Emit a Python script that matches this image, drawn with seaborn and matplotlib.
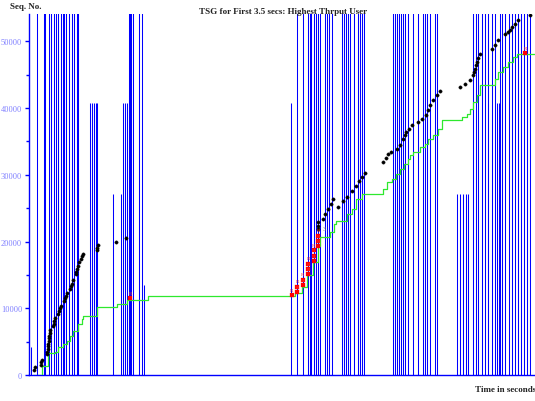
import matplotlib
matplotlib.use("Agg")
import matplotlib.pyplot as plt
import seaborn as sns
import pandas as pd

# --- advertised-window lines: time (s) and top of each line (seq no.) ---
win_time = [0.014, 0.055, 0.104, 0.111, 0.138, 0.152, 0.173, 0.187, 0.201, 0.221,
            0.235, 0.242, 0.256, 0.277, 0.297, 0.311, 0.332, 0.339,
            0.422, 0.436, 0.450, 0.463, 0.470,
            0.581, 0.636, 0.650, 0.664, 0.678,
            0.692, 0.699, 0.706, 0.719, 0.761, 0.782, 0.795,
            1.812, 1.854, 1.895, 1.930, 1.944, 1.951, 1.971, 1.985, 1.999, 2.013,
            2.047, 2.061, 2.075, 2.096, 2.165, 2.179, 2.193, 2.207, 2.220, 2.248,
            2.276, 2.289, 2.303, 2.317,
            2.518, 2.532, 2.545, 2.559, 2.573, 2.587, 2.601, 2.622, 2.656, 2.691,
            2.725, 2.739, 2.753, 2.774, 2.808, 2.822,
            2.960, 2.981, 3.002, 3.023, 3.037,
            3.071, 3.092, 3.106, 3.134, 3.154, 3.175, 3.203, 3.223, 3.237, 3.251,
            3.258, 3.272, 3.293, 3.320, 3.341, 3.362, 3.383, 3.404, 3.424, 3.445, 3.466]
win_top = [4200, 56000, 56000, 56000, 56000, 56000, 56000, 56000, 56000, 56000,
           56000, 56000, 56000, 56000, 56000, 56000, 56000, 56000,
           40700, 40700, 40700, 40700, 40700,
           27100, 27100, 40700, 40700, 40700,
           56000, 56000, 56000, 56000, 56000, 56000, 13500,
           40700, 56000, 56000, 56000, 56000, 56000, 56000, 56000, 56000, 56000,
           56000, 56000, 56000, 56000, 56000, 56000, 56000, 56000, 56000, 56000,
           56000, 56000, 56000, 56000,
           56000, 56000, 56000, 56000, 56000, 56000, 56000, 56000, 56000, 56000,
           56000, 56000, 56000, 56000, 56000, 56000,
           27100, 27100, 27100, 27100, 27100,
           56000, 56000, 56000, 56000, 56000, 56000, 56000, 56000, 40700, 40700,
           56000, 56000, 56000, 56000, 56000, 56000, 56000, 56000, 56000, 56000, 56000]

# --- cumulative ACK (step line) ---
ack_time = [0.030, 0.088, 0.134, 0.180, 0.203, 0.237, 0.261, 0.284, 0.306, 0.341,
            0.365, 0.376, 0.468, 0.607, 0.676, 0.825, 1.840, 1.888, 1.923, 1.964,
            1.999, 2.013, 2.082, 2.110, 2.124, 2.200, 2.234, 2.262, 2.303, 2.449,
            2.476, 2.511, 2.539, 2.566, 2.594, 2.622, 2.635, 2.658, 2.705, 2.739,
            2.762, 2.797, 2.831, 2.855, 2.993, 3.028, 3.050, 3.074, 3.097, 3.120,
            3.223, 3.246, 3.281, 3.315, 3.350, 3.373, 3.500]
ack_seq = [0, 1400, 3250, 3500, 4150, 4650, 5150, 5900, 6650, 7650,
           8400, 8900, 10150, 10650, 11300, 11800, 12300, 13150, 15000, 17000,
           19400, 20650, 21400, 22650, 23100, 24150, 24900, 26400, 27150, 27900,
           28950, 29400, 30150, 30900, 31650, 32400, 32900, 33400, 34150, 34650,
           35400, 35900, 36900, 38250, 38650, 39150, 39900, 40900, 41900, 43400,
           44400, 45400, 46150, 46900, 47650, 48150, 48150]

# --- data segments sent ---
seg_time = [0.035, 0.042, 0.083, 0.085, 0.088,
            0.124, 0.126, 0.128, 0.131, 0.133, 0.135, 0.138, 0.140, 0.143, 0.146,
            0.168, 0.172, 0.176, 0.181, 0.204, 0.209, 0.214, 0.220,
            0.243, 0.249, 0.255, 0.262, 0.284, 0.290, 0.296, 0.303,
            0.322, 0.327, 0.332, 0.338, 0.344, 0.362, 0.368, 0.374,
            0.468, 0.473, 0.480, 0.605, 0.671,
            1.999, 1.999, 1.999, 2.031, 2.047, 2.068, 2.089, 2.103,
            2.137, 2.172, 2.200, 2.234, 2.262, 2.283, 2.303, 2.324,
            2.449, 2.470, 2.484, 2.507, 2.542, 2.566, 2.587, 2.599, 2.611, 2.628,
            2.646, 2.692, 2.715, 2.749, 2.762, 2.774, 2.797, 2.820, 2.843,
            2.981, 3.016, 3.050, 3.074, 3.080, 3.085, 3.091, 3.097, 3.108, 3.120,
            3.200, 3.223, 3.246, 3.293, 3.310, 3.327, 3.341, 3.363, 3.385, 3.466]
seg_seq = [800, 1200, 1500, 1900, 2300,
           3100, 3500, 3900, 4300, 4700, 5100, 5500, 5900, 6300, 6700,
           7300, 7700, 8100, 8500, 9200, 9600, 10000, 10400,
           11100, 11500, 11900, 12300, 12900, 13300, 13700, 14200,
           15100, 15500, 15900, 16400, 16900, 17400, 17800, 18200,
           18700, 19100, 19500, 19950, 20550,
           21900, 22400, 22900, 23400, 24150, 24900, 25650, 26400,
           25200, 26100, 26700, 27600, 28300, 29000, 29700, 30300,
           31900, 32500, 33150, 33400, 33900, 34400, 35400, 35900, 36400, 36900,
           37400, 37900, 38400, 38900, 39700, 40400, 41150, 41900, 42500,
           43150, 43650, 44150, 44900, 45400, 45900, 46400, 46900, 47500, 48150,
           48900, 49400, 50150, 51150, 51400, 51650, 52150, 52650, 53150, 54000]

# --- retransmitted segments ---
rtx_time = [0.699, 1.819, 1.854, 1.854, 1.894, 1.894, 1.933, 1.933, 1.933,
            1.970, 1.970, 1.970, 2.002, 2.002, 2.002, 3.431]
rtx_seq = [11550, 12000, 12450, 13250, 13500, 14300, 15100, 15900, 16700,
           17100, 17900, 18700, 19300, 20100, 20900, 48250]

# triple duplicate ACK marker
dup_time = [2.031]
dup_seq = [21900]

yticks = [0, 10000, 20000, 30000, 40000, 50000]
yminor = [5000, 15000, 25000, 35000, 45000]

sns.set_theme(style="white")
plt.rcParams["font.family"] = ["Liberation Serif", "DejaVu Serif"]

fig = plt.figure(figsize=(5.35, 4.02), dpi=100)
ax = fig.add_axes([29 / 535, 26 / 402, 506 / 535, 361 / 402])

blue = "#0000ff"
ax.vlines(win_time, 0, win_top, colors=blue, linewidth=0.75, zorder=1)

ack_df = pd.DataFrame({"t": ack_time, "seq": ack_seq})
sns.lineplot(data=ack_df, x="t", y="seq", ax=ax, color="#2ee82e",
             linewidth=0.9, drawstyle="steps-post", estimator=None,
             sort=False, zorder=3)

seg_df = pd.DataFrame({"t": seg_time, "seq": seg_seq})
sns.scatterplot(data=seg_df, x="t", y="seq", ax=ax, color="black", s=6,
                edgecolor="black", linewidth=0.2, zorder=4)

rtx_df = pd.DataFrame({"t": rtx_time, "seq": rtx_seq})
sns.scatterplot(data=rtx_df, x="t", y="seq", ax=ax, color="#ff0000", s=6,
                marker="s", edgecolor="#ff0000", linewidth=0.2, zorder=5)
for t, s in zip(rtx_time, rtx_seq):
    ax.text(t, s + 500, "R", color="#ff3030", fontsize=3.6, ha="center",
            va="bottom", zorder=5)
for t, s in zip(dup_time, dup_seq):
    ax.text(t, s, "3", color="#707070", fontsize=4.5, ha="left", va="center",
            zorder=5)

ax.set_xlim(0, 3.5)
ax.set_ylim(0, 54100)
ax.set_xlabel("")
ax.set_ylabel("")
ax.set_xticks([])
ax.set_yticks(yticks)
ax.set_yticks(yminor, minor=True)
ax.set_yticklabels([str(v) for v in yticks])
ax.tick_params(axis="y", which="major", direction="out", length=3, width=1,
               color=blue, labelcolor="#8080ff", labelsize=6, pad=2, left=True)
ax.tick_params(axis="y", which="minor", direction="out", length=2, width=1,
               color=blue, left=True)
for side in ("top", "right"):
    ax.spines[side].set_visible(False)
for side in ("left", "bottom"):
    ax.spines[side].set_visible(True)
    ax.spines[side].set_color(blue)
    ax.spines[side].set_linewidth(1.0)
ax.set_facecolor("white")

fig.text(283 / 535, 1 - 12 / 402, "TSG for First 3.5 secs: Highest Thrput User",
         ha="center", va="center", fontsize=6.5, fontweight="bold", color="#222222")
fig.text(10 / 535, 1 - 7 / 402, "Seq. No.", ha="left", va="center",
         fontsize=6.5, fontweight="bold", color="#222222")
fig.text(475 / 535, 1 - 390 / 402, "Time in seconds", ha="left", va="center",
         fontsize=6.5, fontweight="bold", color="#222222")

fig.savefig("out.png", dpi=100, facecolor="white")
